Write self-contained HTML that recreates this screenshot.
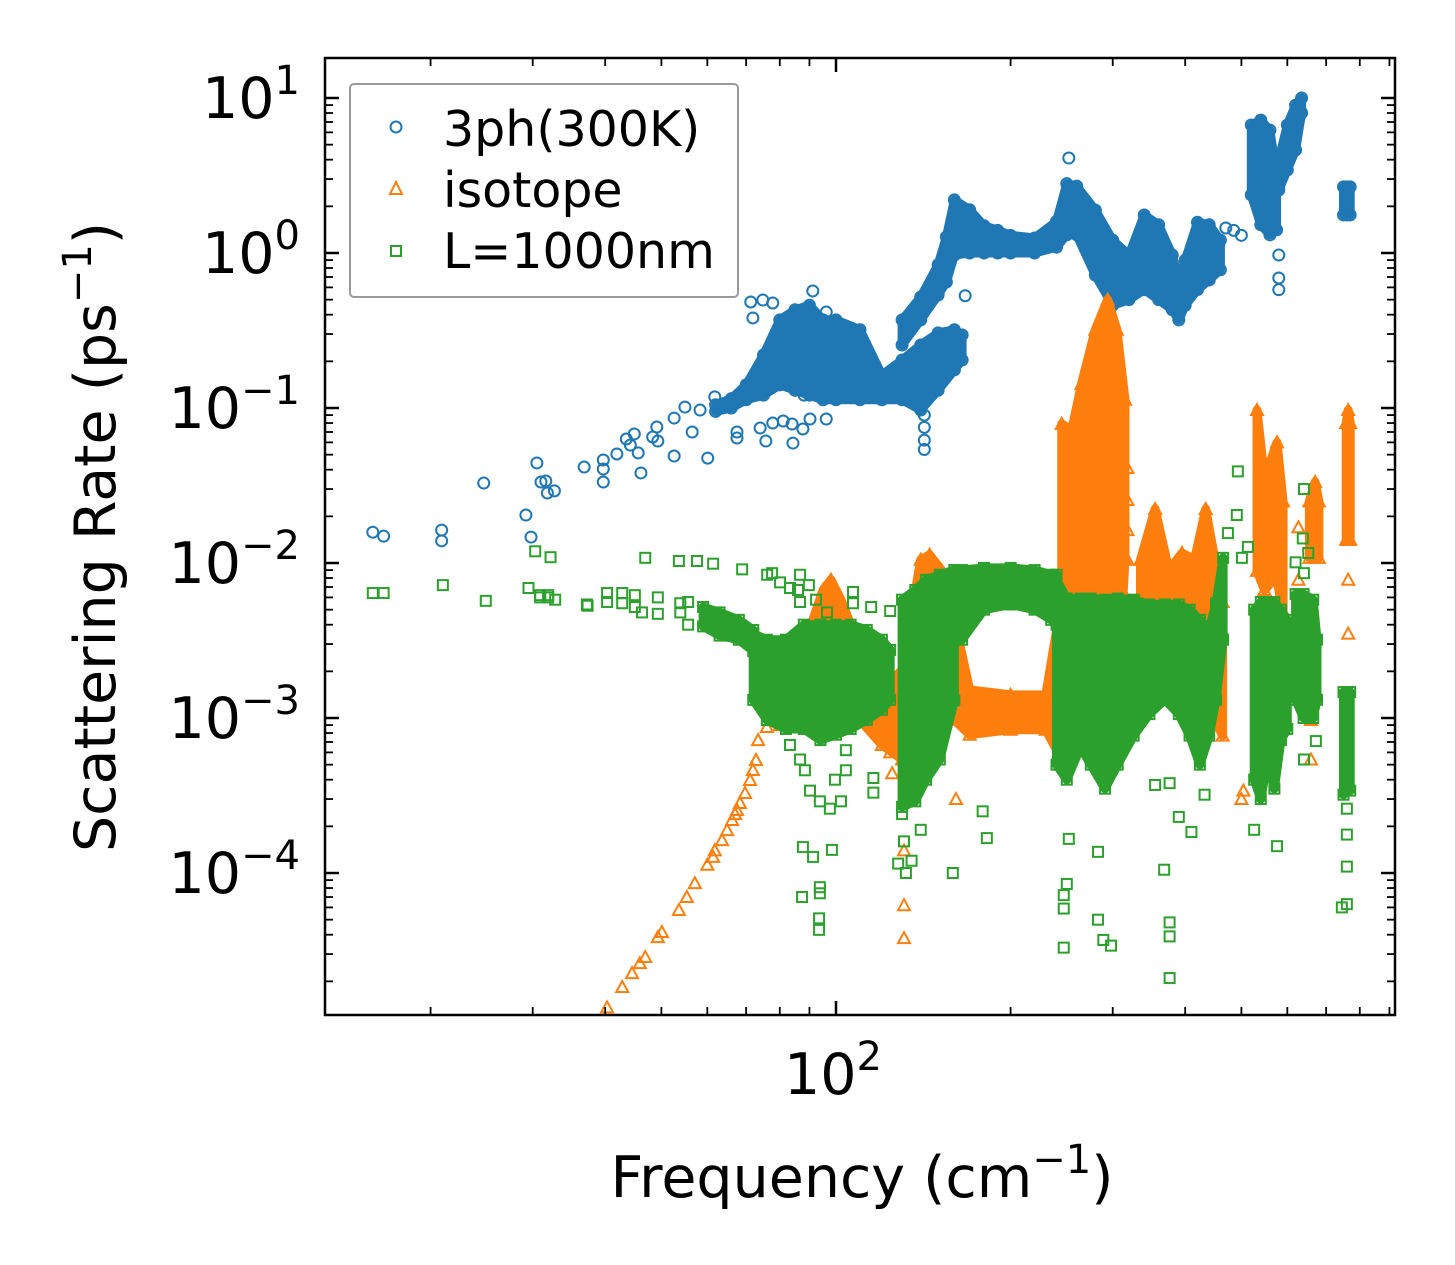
<!DOCTYPE html>
<html><head><meta charset="utf-8"><style>
html,body{margin:0;padding:0;background:#fff;}
svg{display:block;font-family:"DejaVu Sans","Liberation Sans",sans-serif;}
</style></head><body>
<svg id="chart" width="1455" height="1265" viewBox="0 0 1455 1265" xmlns="http://www.w3.org/2000/svg">
<defs><clipPath id="plotclip"><rect x="325" y="58" width="1070" height="957"/></clipPath></defs>
<rect x="0" y="0" width="1455" height="1265" fill="#fff"/>
<g id="marks" clip-path="url(#plotclip)"></g>
<g id="axes"></g>
<text x="862" y="1197" font-size="57" text-anchor="middle">Frequency (cm<tspan dy="-24" font-size="40">−1</tspan><tspan dy="24">)</tspan></text>
<text transform="translate(115,537) rotate(-90)" font-size="57" text-anchor="middle">Scattering Rate (ps<tspan dy="-24" font-size="40">−1</tspan><tspan dy="24">)</tspan></text>
<g id="legend">
<rect x="350" y="84" width="388" height="213" rx="4" fill="#fff" fill-opacity="0.8" stroke="#999" stroke-width="2"/>
<circle cx="396" cy="127" r="5.5" fill="none" stroke="#1f77b4" stroke-width="2"/>
<text x="443" y="146" font-size="49">3ph(300K)</text>
<polygon points="396,182 402,194 390,194" fill="none" stroke="#ff7f0e" stroke-width="2"/>
<text x="443" y="207" font-size="49">isotope</text>
<rect x="391" y="246" width="10" height="10" fill="none" stroke="#2ca02c" stroke-width="2"/>
<text x="443" y="268" font-size="49">L=1000nm</text>
</g>
</svg>
<script>
// ---- blue: 3ph(300K) scattered points ----
const blueF=[15.9,16.6,20.9,20.9,24.7,29.2,29.8,30.5,31.0,31.6,31.8,32.7,36.8,39.7,39.7,39.7,41.9,43.5,44.9,44.2,45.6,46.1,48.3,49.1,49.3,52.6,52.6,54.9,56.5,58.3,60.1,61.8,67.5,67.5,74.0,75.7,77.8,81.1,84.0,84.3,87.7,90.2,96.2,88.1,71.3,71.9,74.8,77.8,91.2,96.2,142,142,142,142,580,580,580,167,151,252,470,485,500];
const blueR=[.0158,.0149,.0163,.0139,.0328,.0204,.0147,.0442,.0333,.0338,.0283,.0292,.0416,.0462,.0404,.0333,.0505,.0631,.068,.0577,.0513,.0381,.065,.0754,.0612,.049,.0861,.1014,.07,.097,.0475,.118,.07,.064,.0743,.0612,.08,.0824,.0788,.0594,.0732,.0849,.0849,.121,.483,.381,.497,.476,.569,.416,.09,.075,.062,.054,.97,.69,.58,.53,.28,4.1,1.45,1.4,1.3];
// blue dense clouds (frequency, lower rate, upper rate)
const b1F=[62,66,70,75,80,85,90,95,100,110,120,130,140,150,160,165];
const b1Lo=[.095,.1,.113,.121,.141,.13,.121,.113,.113,.113,.113,.113,.097,.13,.176,.204];
const b1Hi=[.105,.115,.141,.22,.37,.43,.46,.37,.37,.32,.163,.204,.255,.305,.32,.296];
const b2F=[130,140,150,155,160,170,180,190,200,220,240,250,260,280,300,320,340,360,380,390,400,420,440,460];
const b2Lo=[.255,.37,.536,.65,.97,1.0,1.0,1.0,1.0,1.0,1.09,1.31,1.31,.72,.46,.50,.58,.50,.43,.37,.46,.58,.67,.78];
const b2Hi=[.37,.52,.84,1.27,2.2,1.9,1.5,1.4,1.3,1.25,1.6,2.8,2.7,1.89,1.21,.97,1.76,1.52,.97,.67,.90,1.58,1.52,1.21];
const b3F=[520,540,560,575];
const b3Lo=[2.37,1.52,1.31,1.41];
const b3Hi=[6.7,7.2,6.2,3.19];
const b4F=[580,600,620,635];
const b4Lo=[2.55,3.43,4.62,8.0];
const b4Hi=[3.98,6.7,9.0,10];
const b5F=[750,760,770];
const b5Lo=[1.76,1.76,1.76];
const b5Hi=[2.67,2.67,2.67];
// ---- orange: isotope ----
const orangeF=[40.3,42.8,44.5,45.9,46.9,49.3,50.1,53.6,55.3,57.1,60.0,61.4,63.6,64.9,66.2,67.5,68.3,69.7,71.1,71.9,72.8,73.4,76.0,77.8,61.8,67,131,131,131,124,125,161,318,318,318,318,318,318,504,500,627,627,627,659,659,659,764,764];
const orangeR=[1.36e-5,1.84e-5,2.26e-5,2.62e-5,2.87e-5,3.86e-5,4.16e-5,5.77e-5,7.0e-5,8.6e-5,1.13e-4,1.27e-4,1.63e-4,1.89e-4,2.2e-4,2.55e-4,2.83e-4,3.28e-4,3.98e-4,4.62e-4,5.36e-4,7.2e-4,8.75e-4,1.08e-3,1.4e-4,2.4e-4,6.2e-5,3.8e-5,1.4e-4,6e-4,4.4e-4,3.0e-4,.041,.0255,.0163,.0105,5.8e-3,3.2e-3,3.4e-4,3.0e-4,.017,.0078,.0049,1.47e-3,9.7e-4,5.4e-4,7.8e-3,3.5e-3];
const o1F=[80,90,95,98,102,110,120,130,140,145,152,160,170,200,230,245];
const o1Lo=[9.0e-4,9.7e-4,9.7e-4,1.31e-3,1.52e-3,9.7e-4,6.7e-4,5.4e-4,7.2e-4,9.7e-4,1.13e-3,9.7e-4,7.8e-4,8.4e-4,8.4e-4,5.4e-4];
const o1Hi=[2.55e-3,3.7e-3,6.7e-3,7.8e-3,5.8e-3,2.8e-3,1.52e-3,2.04e-3,1.05e-2,1.13e-2,9.0e-3,4.3e-3,1.52e-3,1.41e-3,1.41e-3,5.8e-3];
const o2F=[245,255,265,280,294,305,315];
const o2Lo=[5.4e-4,7.2e-4,7.7e-4,9e-4,1.0e-3,1.2e-3,1.05e-2];
const o2Hi=[.079,.072,.143,.32,.50,.32,.113];
const o3F=[335,355,375,395,415,434,450,464];
const o3Lo=[1.31e-3,1.76e-3,1.76e-3,1.52e-3,1.31e-3,9.7e-4,9.7e-4,7.7e-4];
const o3Hi=[.0105,.0223,9.0e-3,.0116,.0105,.0223,.0105,5.6e-3];
const o4F=[532,548,576,590];
const o4Lo=[8.9e-3,6.7e-3,8.2e-3,4.3e-3];
const o4Hi=[.097,.035,.060,.025];
const o5F=[655,670,680];
const o5Lo=[.0108,.0108,.0108];
const o5Hi=[.025,.0333,.025];
const o6F=[758,764,770];
const o6Lo=[.0141,.0141,.0141];
const o6Hi=[.08,.097,.08];
// ---- green: L=1000nm boundary ----
const greenF=[15.9,16.6,21.0,24.9,29.5,30.3,30.9,31.9,37.2,30.9,31.9,32.8,32.2,46.9,53.6,57.6,61.4,68.9,76.1,77.6,80.1,83.3,86.0,86.7,86.7,89.8,92.4,96.5,107,107,115,124,37.3,40.3,40.3,42.8,42.8,45.0,45.0,46.3,49.3,49.3,53.9,53.9,55.6,55.6,87.7,91.3,98.4,87.4,93.8,93.8,93.5,93.5,116,116,86.7,90.2,93.8,99.6,104,97.6,88.4,102,104,83.3,130,131,132,140,135,128,159,179,182,252,250,247,247,247,283,283,289,298,368,376,376,376,355,376,390,410,432,493,491,474,513,501,641,638,652,620,641,576,526,672,641,760,760,760,760,745];
const greenR=[6.4e-3,6.4e-3,7.2e-3,5.7e-3,6.9e-3,.0119,6.0e-3,6.2e-3,5.4e-3,6.2e-3,6.0e-3,5.8e-3,.0109,.0108,.0103,.0103,.0099,.0091,.0084,.0086,.0075,6.9e-3,6.7e-3,.0084,5.6e-3,7.2e-3,5.8e-3,4.8e-3,6.5e-3,5.5e-3,5.2e-3,4.9e-3,5.3e-3,6.4e-3,5.6e-3,6.4e-3,5.5e-3,6.2e-3,5.2e-3,4.8e-3,6.0e-3,4.7e-3,5.5e-3,4.8e-3,5.6e-3,4.0e-3,1.47e-4,1.27e-4,1.41e-4,7.0e-5,8.1e-5,7.4e-5,5.1e-5,4.3e-5,4.1e-4,3.3e-4,5.4e-4,3.4e-4,2.9e-4,4.0e-4,4.6e-4,2.6e-4,4.6e-4,2.9e-4,6.2e-4,6.7e-4,2.4e-4,1.6e-4,1.0e-4,1.9e-4,1.2e-4,1.15e-4,1.0e-4,2.5e-4,1.68e-4,1.66e-4,8.5e-5,7.2e-5,5.9e-5,3.3e-5,1.37e-4,5.0e-5,3.7e-5,3.4e-5,1.05e-4,4.8e-5,3.9e-5,2.1e-5,3.7e-4,3.8e-4,2.3e-4,1.84e-4,3.2e-4,.039,.0204,.0156,.0127,.0108,.030,.0144,.0116,.0101,8.6e-3,1.49e-4,1.9e-4,7.1e-4,5.4e-4,2.6e-4,1.77e-4,1.1e-4,6.3e-5,6.0e-5];
const g1F=[59,63,68,72];
const g1Lo=[3.9e-3,3.4e-3,3.2e-3,2.7e-3];
const g1Hi=[5.2e-3,4.8e-3,4.3e-3,3.7e-3];
const g2F=[72,76,82,88,94,100,106,113,120,124];
const g2Lo=[1.31e-3,9.7e-4,8.5e-4,8.5e-4,7.2e-4,7.8e-4,8.5e-4,9.7e-4,1.13e-3,1.31e-3];
const g2Hi=[3.5e-3,3.2e-3,3.2e-3,4.0e-3,4.0e-3,4.0e-3,4.0e-3,3.7e-3,3.2e-3,2.75e-3];
const g3F=[130,137,143,151,160];
const g3Lo=[2.67e-4,2.9e-4,4.0e-4,5.4e-4,1.3e-3];
const g3Hi=[5.8e-3,6.7e-3,7.8e-3,8.4e-3,9.0e-3];
const g4F=[160,165,180,200,220,235,240];
const g4Lo=[3.2e-3,3.2e-3,5.0e-3,5.4e-3,5.0e-3,4.3e-3,4.0e-3];
const g4Hi=[9.0e-3,9.0e-3,9.3e-3,9.3e-3,9.0e-3,8.4e-3,8.4e-3];
const g5F=[240,250,264,275,291,306,326,347,369,390,407,424,440,452,465];
const g5Lo=[5e-4,4e-4,6.5e-4,5e-4,3.5e-4,5e-4,7.7e-4,1.06e-3,1.31e-3,1.06e-3,7.7e-4,5e-4,7.7e-4,1.31e-3,3.2e-3];
const g5Hi=[7.8e-3,5.9e-3,5.9e-3,5.9e-3,5.8e-3,5.9e-3,5.8e-3,5.4e-3,5.4e-3,5.4e-3,5.0e-3,4.3e-3,3.7e-3,5.5e-3,.0108];
const g6F=[526,540,555,570,585,600];
const g6Lo=[4e-4,3e-4,5.4e-4,3.5e-4,7.2e-4,8.5e-4];
const g6Hi=[5.0e-3,5.6e-3,5.6e-3,5.6e-3,5.0e-3,4.3e-3];
const g7F=[620,640,665,675];
const g7Lo=[1.31e-3,1.0e-3,1.0e-3,1.31e-3];
const g7Hi=[6.3e-3,6.3e-3,5.8e-3,3.2e-3];
const g8F=[750,760,770];
const g8Lo=[3.2e-4,4.0e-4,3.4e-4];
const g8Hi=[1.47e-3,1.47e-3,1.47e-3];
// ---- axis ticks ----
const yMajorExp=[-4,-3,-2,-1,0,1];
const yTickLabels=["−4","−3","−2","−1","0","1"];
const xMajorVals=[100];
const xTickLabels=["2"];
const xMinorVals=[20,30,40,50,60,70,80,90,200,300,400,500,600,700,800,900];

const NS="http://www.w3.org/2000/svg";
const PX0=325,PX1=1395,PY0=58,PY1=1015;
const LX0=1.1190,LX1=2.9638,LY0=-4.916,LY1=1.258;
function xs(f){return PX0+(Math.log10(f)-LX0)/(LX1-LX0)*(PX1-PX0);}
function ys(r){return PY1-(Math.log10(r)-LY0)/(LY1-LY0)*(PY1-PY0);}
const marks=document.getElementById('marks');
const axes=document.getElementById('axes');
function mk(tag,attrs,parent){const e=document.createElementNS(NS,tag);for(const k in attrs)e.setAttribute(k,attrs[k]);parent.appendChild(e);return e;}
const COL={blue:"#1f77b4",orange:"#ff7f0e",green:"#2ca02c"};
function marker(kind,x,y,g){
  let e;
  if(kind==='blue'){e=mk('circle',{cx:x,cy:y,r:5.5,fill:'none',stroke:COL.blue,'stroke-width':2},g);}
  else if(kind==='orange'){e=mk('polygon',{points:(x)+','+(y-6)+' '+(x+6)+','+(y+5)+' '+(x-6)+','+(y+5),fill:'none',stroke:COL.orange,'stroke-width':2},g);}
  else {e=mk('rect',{x:x-5,y:y-5,width:10,height:10,fill:'none',stroke:COL.green,'stroke-width':2},g);}
  return e;
}
function band(kind,F,Lo,Hi,g){
  let pts=[];
  for(let i=0;i<F.length;i++)pts.push(xs(F[i]).toFixed(1)+','+ys(Hi[i]).toFixed(1));
  for(let i=F.length-1;i>=0;i--)pts.push(xs(F[i]).toFixed(1)+','+ys(Lo[i]).toFixed(1));
  const p=mk('polygon',{points:pts.join(' '),fill:COL[kind],stroke:COL[kind],'stroke-width':9,'stroke-linejoin':'round'},g);
  
  
  for(let i=0;i<F.length;i++){
    const a=marker(kind,xs(F[i]),ys(Hi[i]),g);
    
    
    const b=marker(kind,xs(F[i]),ys(Lo[i]),g);
    
    
  }
}
function series(kind,F,R,bands){
  const g=mk('g',{},marks);
  
  
  bands.forEach(b=>band(kind,b[0],b[1],b[2],g));
  for(let i=0;i<F.length;i++){
    const m=marker(kind,xs(F[i]),ys(R[i]),g);
    
    
  }
}
series('blue',blueF,blueR,[[b1F,b1Lo,b1Hi],[b2F,b2Lo,b2Hi],[b3F,b3Lo,b3Hi],[b4F,b4Lo,b4Hi],[b5F,b5Lo,b5Hi]]);
series('orange',orangeF,orangeR,[[o1F,o1Lo,o1Hi],[o2F,o2Lo,o2Hi],[o3F,o3Lo,o3Hi],[o4F,o4Lo,o4Hi],[o5F,o5Lo,o5Hi],[o6F,o6Lo,o6Hi]]);
series('green',greenF,greenR,[[g1F,g1Lo,g1Hi],[g2F,g2Lo,g2Hi],[g3F,g3Lo,g3Hi],[g4F,g4Lo,g4Hi],[g5F,g5Lo,g5Hi],[g6F,g6Lo,g6Hi],[g7F,g7Lo,g7Hi],[g8F,g8Lo,g8Hi]]);

// axes frame
const frame=mk('rect',{x:PX0,y:PY0,width:PX1-PX0,height:PY1-PY0,fill:'none',stroke:'#000','stroke-width':2.5},axes);


function tick(x1,y1,x2,y2,w,name){
  const t=mk('line',{x1:x1,y1:y1,x2:x2,y2:y2,stroke:'#000','stroke-width':w},axes);
  
  
}
for(let k=0;k<yMajorExp.length;k++){
  const e=yMajorExp[k];const y=ys(Math.pow(10,e));
  tick(PX0,y,PX0+14,y,2.5,'y-major-tick');
  tick(PX1,y,PX1-14,y,2.5,'y-major-tick-right');
  const t=mk('text',{x:300,y:y+20,'font-size':57,'text-anchor':'end'},axes);
  
  
  t.appendChild(document.createTextNode('10'));
  const s=mk('tspan',{dy:-24,'font-size':40},t);
  s.textContent=yTickLabels[k];
}
for(let e=-5;e<=1;e++){
  for(let m=2;m<=9;m++){
    const v=m*Math.pow(10,e);const y=ys(v);
    if(y<PY0||y>PY1)continue;
    tick(PX0,y,PX0+8,y,1.8,'y-minor-tick');
    tick(PX1,y,PX1-8,y,1.8,'y-minor-tick-right');
  }
}
for(let k=0;k<xMajorVals.length;k++){
  const x=xs(xMajorVals[k]);
  tick(x,PY1,x,PY1-14,2.5,'x-major-tick');
  tick(x,PY0,x,PY0+14,2.5,'x-major-tick-top');
  const t=mk('text',{x:x-3,y:1094,'font-size':57,'text-anchor':'middle'},axes);
  
  
  t.appendChild(document.createTextNode('10'));
  const s=mk('tspan',{dy:-24,'font-size':40},t);
  s.textContent=xTickLabels[k];
}
for(const v of xMinorVals){
  const x=xs(v);
  tick(x,PY1,x,PY1-8,1.8,'x-minor-tick');
  tick(x,PY0,x,PY0+8,1.8,'x-minor-tick-top');
}
</script>
</body></html>
